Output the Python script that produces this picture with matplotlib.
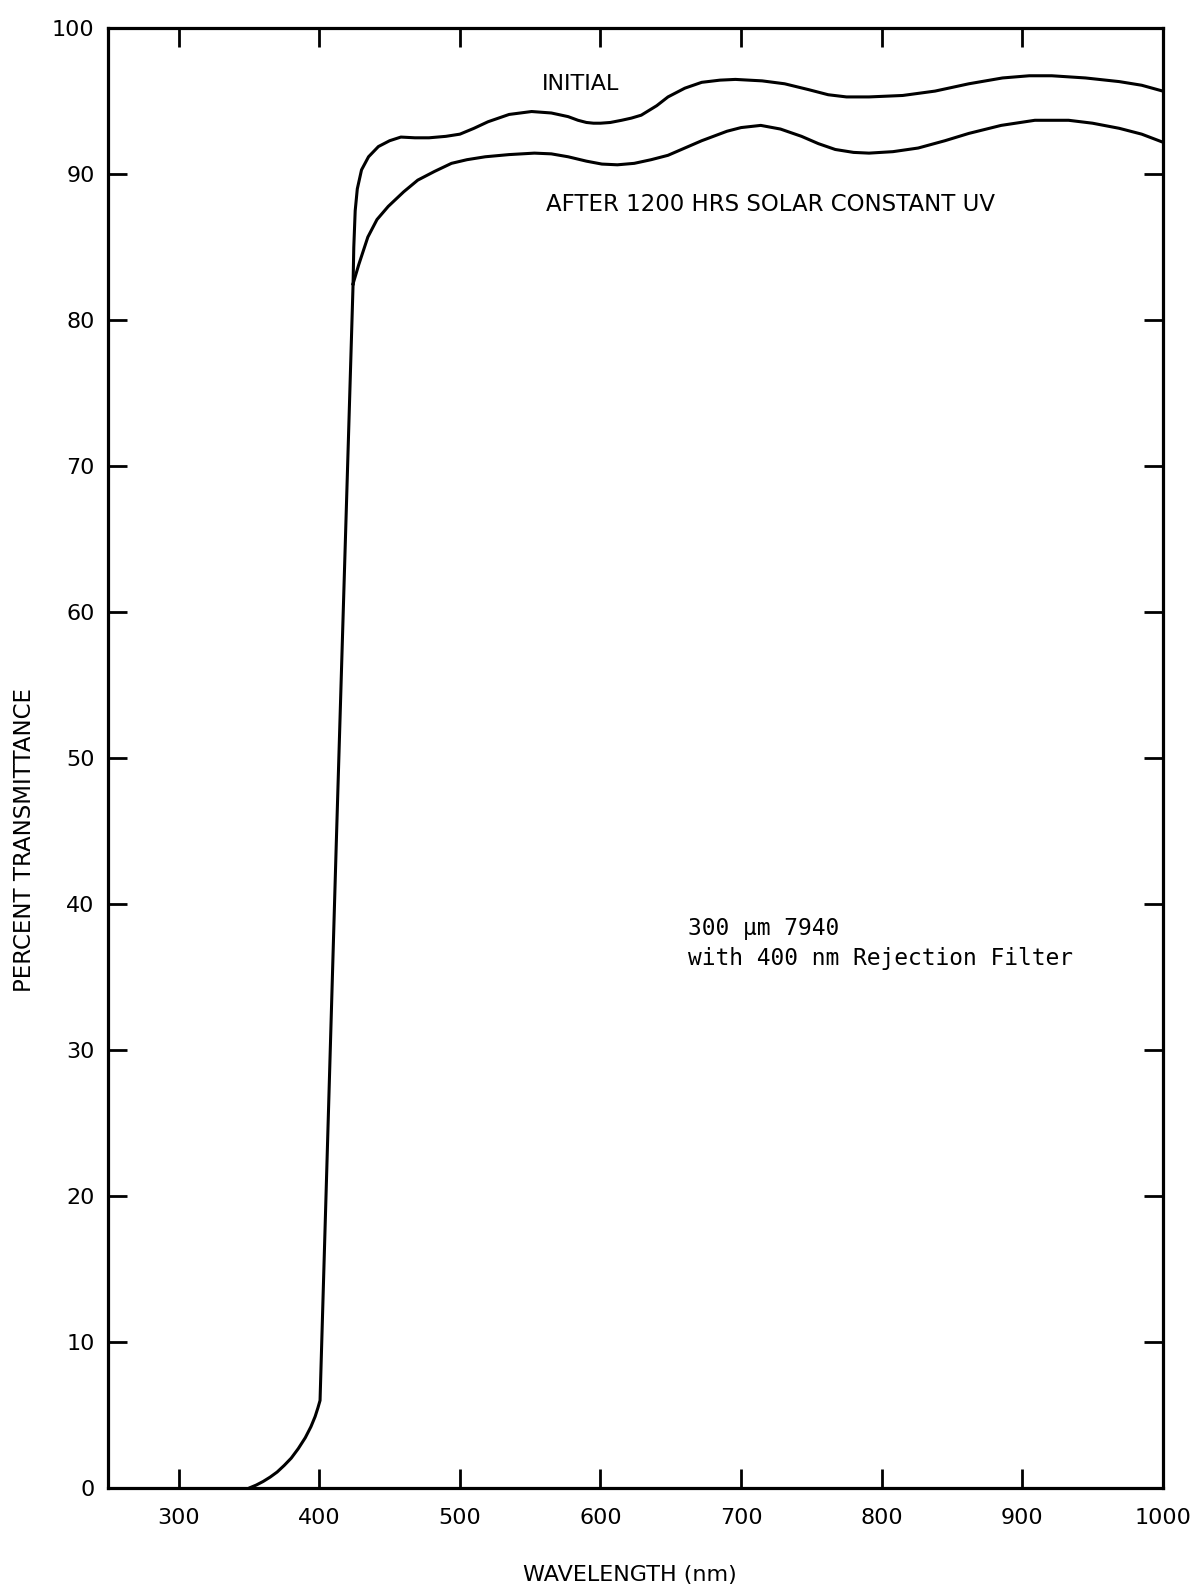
import matplotlib
matplotlib.use("Agg")
import matplotlib.pyplot as plt

# common foot and steep edge (both curves)
rise_wl = [350, 355, 360, 365, 370, 375, 380, 385, 390, 394, 397, 399, 400.5,
           412, 424]
rise_t = [0, 0.2, 0.45, 0.75, 1.1, 1.55, 2.05, 2.7, 3.45, 4.2, 4.9, 5.5, 6.0,
          44.0, 82.5]

# initial transmittance
init_wl = [424, 424.5, 425.5, 427, 430, 435, 442, 450, 458, 468, 478, 490, 500,
           510, 520, 535, 551, 565, 577, 584, 590, 595, 600, 607, 615, 622, 629,
           640, 648, 660, 672, 685, 696, 715, 731, 748, 762, 775, 791, 815, 838,
           862, 886, 905, 921, 945, 969, 985, 1000]
init_t = [82.5, 85.0, 87.5, 89.0, 90.3, 91.2, 91.9, 92.3, 92.55, 92.5, 92.5, 92.6,
          92.75, 93.15, 93.6, 94.1, 94.3, 94.2, 93.95, 93.7, 93.55, 93.5, 93.5,
          93.55, 93.7, 93.85, 94.05, 94.7, 95.3, 95.9, 96.3, 96.45, 96.5, 96.4,
          96.2, 95.8, 95.45, 95.3, 95.3, 95.4, 95.7, 96.2, 96.6, 96.75, 96.75,
          96.6, 96.35, 96.1, 95.7]

# after 1200 hrs solar constant UV
after_wl = [424, 428, 434.5, 441, 449, 460, 470, 482, 494, 505, 518, 535, 553,
            565, 577, 590, 601, 612, 624, 636, 648, 660, 672, 690, 700, 714, 728,
            743, 755, 767, 780, 791, 808, 826, 845, 862, 885, 909, 933, 950, 969,
            985, 1000]
after_t = [82.5, 83.8, 85.7, 86.9, 87.8, 88.8, 89.6, 90.2, 90.75, 91.0, 91.2,
           91.35, 91.45, 91.4, 91.2, 90.9, 90.7, 90.65, 90.75, 91.0, 91.3, 91.8,
           92.3, 92.95, 93.2, 93.35, 93.1, 92.6, 92.1, 91.7, 91.5, 91.45, 91.55,
           91.8, 92.3, 92.8, 93.35, 93.7, 93.7, 93.5, 93.15, 92.75, 92.2]

xticks = list(range(300, 1001, 100))
yticks = list(range(0, 101, 10))

fig = plt.figure(figsize=(12, 15.91), dpi=100)
ax = fig.add_axes([0.0904, 0.0647, 0.8786, 0.9175])

lw = 2.2
ax.plot(rise_wl, rise_t, color="black", lw=lw, solid_capstyle="round")
ax.plot(init_wl, init_t, color="black", lw=lw)
ax.plot(after_wl, after_t, color="black", lw=lw)

ax.set_xlim(250, 1000)
ax.set_ylim(0, 100)
ax.set_xticks(xticks)
ax.set_yticks(yticks)
ax.tick_params(direction="in", length=14, width=2, labelsize=16,
               top=True, right=True, pad=10)
ax.tick_params(axis="x", pad=14)
for s in ax.spines.values():
    s.set_linewidth(2.3)

ax.text(586, 96.2, "INITIAL", fontsize=16, ha="center", va="center")
ax.text(561, 87.9, "AFTER 1200 HRS SOLAR CONSTANT UV", fontsize=16.5,
        ha="left", va="center")
ax.text(662, 38.3, "300 µm 7940", fontsize=16.5, family="DejaVu Sans Mono",
        ha="left", va="center")
ax.text(662, 36.3, "with 400 nm Rejection Filter", fontsize=16.5,
        family="DejaVu Sans Mono", ha="left", va="center")

fig.text(630 / 1200, 1 - 1575 / 1591, "WAVELENGTH (nm)", fontsize=16,
         ha="center", va="center")
fig.text(25 / 1200, 1 - 840 / 1591, "PERCENT TRANSMITTANCE", fontsize=16.5,
         rotation=90, ha="center", va="center")

fig.savefig("out.png", dpi=100)
